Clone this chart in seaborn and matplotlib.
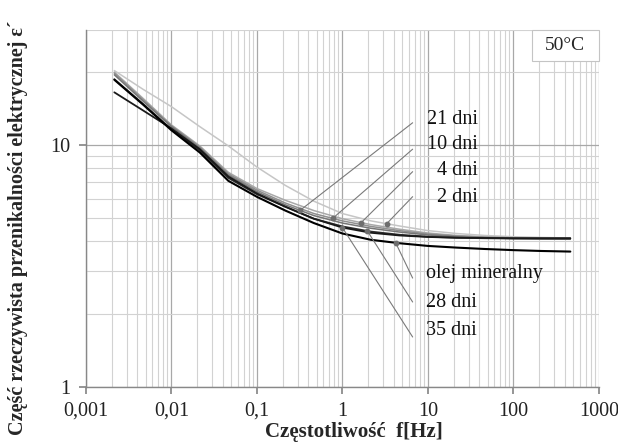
import numpy as np
import pandas as pd
import matplotlib
matplotlib.use("Agg")
import matplotlib.pyplot as plt
import seaborn as sns
from matplotlib.ticker import LogLocator, NullFormatter
from matplotlib.patches import Rectangle

# ---- data -------------------------------------------------------------
freq = [0.00215, 0.00464, 0.01, 0.0215, 0.0464, 0.1, 0.215, 0.464, 1.0,
        2.15, 4.64, 10.0, 21.5, 46.4, 100.0, 215.0, 464.0]

eps_2dni = [20.3, 17.0, 14.4, 11.9, 9.9, 8.1, 6.8, 5.85, 5.2, 4.85, 4.62, 4.42, 4.3, 4.22, 4.17, 4.14, 4.12]
eps_4dni = [20.0, 15.6, 12.1, 9.9, 7.7, 6.6, 5.9, 5.35, 4.95, 4.68, 4.48, 4.32, 4.22, 4.16, 4.13, 4.11, 4.10]
eps_10dni = [19.8, 15.4, 12.0, 9.8, 7.6, 6.5, 5.75, 5.2, 4.85, 4.6, 4.42, 4.28, 4.2, 4.15, 4.12, 4.10, 4.09]
eps_21dni = [19.5, 15.2, 11.9, 9.7, 7.5, 6.4, 5.65, 5.1, 4.75, 4.52, 4.36, 4.24, 4.17, 4.13, 4.10, 4.08, 4.07]
eps_28dni = [18.7, 14.8, 11.6, 9.5, 7.3, 6.25, 5.55, 4.95, 4.6, 4.38, 4.25, 4.17, 4.13, 4.11, 4.10, 4.10, 4.10]
eps_35dni = [16.5, 13.9, 11.7, 9.6, 7.4, 6.3, 5.55, 4.95, 4.55, 4.33, 4.22, 4.16, 4.13, 4.12, 4.11, 4.11, 4.11]
eps_olej = [18.6, 14.7, 11.5, 9.3, 7.1, 6.1, 5.35, 4.75, 4.3, 4.05, 3.92, 3.82, 3.76, 3.71, 3.67, 3.64, 3.62]

series_names = ["2 dni", "4 dni", "10 dni", "21 dni", "28 dni", "35 dni", "olej mineralny"]
series_values = [eps_2dni, eps_4dni, eps_10dni, eps_21dni, eps_28dni, eps_35dni, eps_olej]
series_colors = ["#c6c6c6", "#a9a9a9", "#8f8f8f", "#767676", "#2e2e2e", "#1a1a1a", "#000000"]
series_widths = [1.1, 1.1, 1.1, 1.1, 1.3, 1.3, 1.5]

# leader annotation: marker frequency on each series
marker_freq = {"21 dni": 0.32, "10 dni": 0.77, "4 dni": 1.66, "2 dni": 3.3,
               "olej mineralny": 4.2, "28 dni": 1.96, "35 dni": 1.0}

x_ticks = [0.001, 0.01, 0.1, 1, 10, 100, 1000]
x_ticklabels = ["0,001", "0,01", "0,1", "1", "10", "100", "1000"]
y_ticks = [1, 10]
y_ticklabels = ["1", "10"]

# ---- figure -----------------------------------------------------------
sns.set_theme(style="white")
plt.rcParams["font.family"] = ["Liberation Serif", "DejaVu Serif"]

df = pd.DataFrame({
    "f": np.tile(freq, len(series_names)),
    "eps": np.concatenate(series_values),
    "seria": np.repeat(series_names, len(freq)),
})

fig = plt.figure(figsize=(6.18, 4.48), dpi=100)
ax = fig.add_axes([0.139, 0.137, 0.830, 0.797])

ax.set_xscale("log")
ax.set_yscale("log")
ax.set_xlim(0.001, 1000)
ax.set_ylim(1, 30)

# grid
ax.xaxis.set_minor_locator(LogLocator(base=10, subs=np.arange(2, 10)))
ax.yaxis.set_minor_locator(LogLocator(base=10, subs=np.arange(2, 10)))
ax.grid(which="minor", color="#d2d2d2", linewidth=0.8)
ax.grid(which="major", color="#a8a8a8", linewidth=0.9)
ax.set_axisbelow(True)

sns.lineplot(data=df, x="f", y="eps", hue="seria", hue_order=series_names,
             palette=dict(zip(series_names, series_colors)), legend=False,
             ax=ax, estimator=None, sort=False)
for line, lw in zip(ax.get_lines(), series_widths):
    line.set_linewidth(lw)

ax.set_xticks(x_ticks)
ax.set_xticklabels(x_ticklabels)
ax.set_yticks(y_ticks)
ax.set_yticklabels(y_ticklabels)
ax.xaxis.set_minor_formatter(NullFormatter())
ax.yaxis.set_minor_formatter(NullFormatter())
ax.tick_params(which="major", direction="out", length=5, color="#888888",
               labelsize=14.5, pad=6, left=True, bottom=True, labelcolor="#222222")
ax.tick_params(which="minor", length=0)

for s in ["top", "right"]:
    ax.spines[s].set_visible(False)
for s in ["left", "bottom"]:
    ax.spines[s].set_color("#888888")
    ax.spines[s].set_linewidth(1.0)

ax.set_xlabel("Częstotliwość  f[Hz]", fontsize=15, fontweight="bold")
ax.xaxis.set_label_coords(0.522, -0.098)
ax.set_ylabel("Część rzeczywista przenikalności elektrycznej ε´", fontsize=14.5,
              fontweight="bold")
ax.yaxis.set_label_coords(-0.112, 0.444)

# 50°C box in the top-right corner
ax.add_patch(Rectangle((0.869, 0.912), 0.131, 0.088, transform=ax.transAxes,
                       facecolor="white", edgecolor="#c4c4c4", lw=0.8,
                       zorder=6, clip_on=False))
ax.text(0.9345, 0.956, "50°C", transform=ax.transAxes, ha="center", va="center",
        fontsize=14, zorder=7)

# leaders
layout = {
    "21 dni": (0.739, 0.749, "right"),
    "10 dni": (0.665, 0.677, "right"),
    "4 dni": (0.602, 0.604, "right"),
    "2 dni": (0.532, 0.531, "right"),
    "olej mineralny": (0.304, 0.316, "left"),
    "28 dni": (0.237, 0.237, "left"),
    "35 dni": (0.139, 0.156, "left"),
}
name_to_vals = dict(zip(series_names, series_values))
lf = np.log10(freq)
for name, (ly, ty, ha) in layout.items():
    fm = marker_freq[name]
    ym = 10 ** np.interp(np.log10(fm), lf, np.log10(name_to_vals[name]))
    ax.annotate("", xy=(fm, ym), xycoords="data",
                xytext=(0.637, ly), textcoords="axes fraction",
                arrowprops=dict(arrowstyle="-", color="#7a7a7a", lw=0.8,
                                shrinkA=0, shrinkB=0))
    ax.plot([fm], [ym], "o", color="#6e6e6e", markersize=3.2, zorder=5)
    tx = 0.764 if ha == "right" else 0.663
    ax.text(tx, ty, name, transform=ax.transAxes, ha=ha, va="center",
            fontsize=14.5, color="#111111")

fig.savefig("out.png", dpi=100)
